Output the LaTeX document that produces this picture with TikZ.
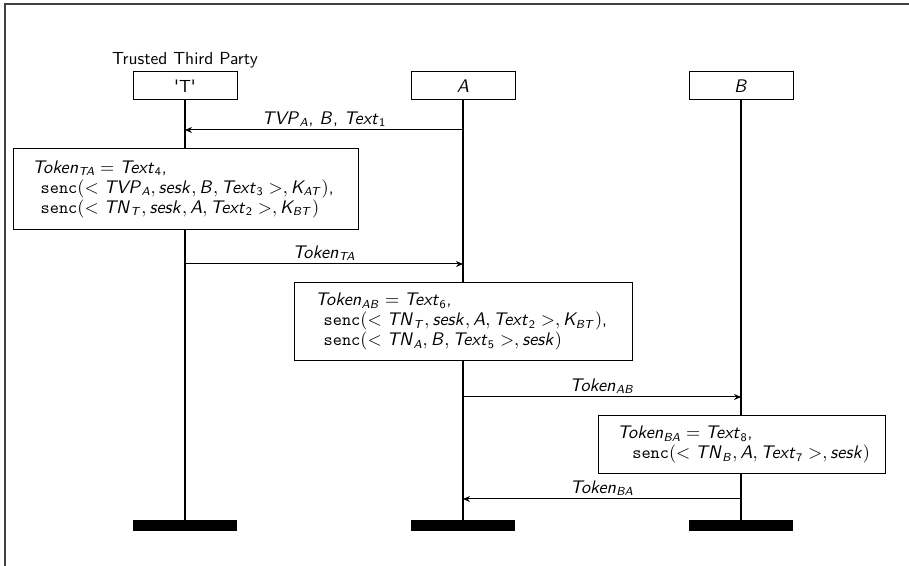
\documentclass[tikz,border=0pt]{standalone}
\usetikzlibrary{arrows.meta}
\DeclareMathAlphabet{\msi}{OT1}{cmss}{m}{sl}
\DeclareMathAlphabet{\msu}{OT1}{cmss}{m}{n}
\begin{document}
\begin{tikzpicture}[x=0.6pt,y=-0.6pt,font=\fontsize{10.5}{12}\selectfont\sffamily,
  part/.style={draw,line width=0.6pt,minimum width=62.4pt,minimum height=16.8pt,inner sep=0pt,fill=white},
  endbar/.style={fill=black,minimum width=62.4pt,minimum height=6.6pt,inner sep=0pt},
  life/.style={line width=0.8pt},
  msg/.style={-{Stealth[length=4.2pt,width=3.6pt]},line width=0.6pt},
  lbl/.style={anchor=south,inner sep=1.5pt},
  box/.style={draw,line width=0.6pt,fill=white,anchor=north west,inner sep=0pt},
  boxtext/.style={anchor=west,align=left,inner sep=0pt}]
\useasboundingbox (0,0) rectangle (909,566);
\draw[line width=0.9pt,black!75] (5,566) -- (5,4) -- (909,4);
% participants
\node[part] (T) at (185,86) {\textquotesingle T\textquotesingle};
\node[part] (A) at (463,86) {$\msi{A}$};
\node[part] (B) at (741,86) {$\msi{B}$};
\node[anchor=south,inner sep=2pt] (ttp) at (T.north) {Trusted Third Party};
\node[endbar] (Te) at (185,525.5) {};
\node[endbar] (Ae) at (463,525.5) {};
\node[endbar] (Be) at (741,525.5) {};
\draw[life] (T) -- (Te);
\draw[life] (A) -- (Ae);
\draw[life] (B) -- (Be);
% message coordinates
\coordinate (m1s) at (463,130); \coordinate (m1e) at (185,130);
\coordinate (m2s) at (185,264); \coordinate (m2e) at (463,264);
\coordinate (m3s) at (463,397); \coordinate (m3e) at (741,397);
\coordinate (m4s) at (741,499); \coordinate (m4e) at (463,499);
\draw[msg] (m1s) -- node[lbl] (l1) {$\msi{TVP}_{\msi{A}}$, $\msi{B}$, $\msi{Text}_{\msu{1}}$} (m1e);
\draw[msg] (m2s) -- node[lbl] (l2) {$\msi{Token}_{\msi{TA}}$} (m2e);
\draw[msg] (m3s) -- node[lbl] (l3) {$\msi{Token}_{\msi{AB}}$} (m3e);
\draw[msg] (m4s) -- node[lbl] (l4) {$\msi{Token}_{\msi{BA}}$} (m4e);
% boxes
\node[box,minimum width=207pt,minimum height=48.6pt] (bTA) at (13,148) {};
\node[boxtext] (tTA) at ([xshift=11.4pt]bTA.west)
 {$\msi{Token}_{\msi{TA}} = \msi{Text}_{\msu{4}}$,\\
  \hspace*{5pt}$\texttt{senc}(< \msi{TVP}_{\msi{A}}, \msi{sesk}, \msi{B}, \msi{Text}_{\msu{3}} >, \msi{K}_{\msi{AT}})$,\\
  \hspace*{5pt}$\texttt{senc}(< \msi{TN}_{\msi{T}}, \msi{sesk}, \msi{A}, \msi{Text}_{\msu{2}} >, \msi{K}_{\msi{BT}})$};
\node[box,minimum width=202.8pt,minimum height=46.8pt] (bAB) at (294,282) {};
\node[boxtext] (tAB) at ([xshift=12.6pt]bAB.west)
 {$\msi{Token}_{\msi{AB}} = \msi{Text}_{\msu{6}}$,\\
  \hspace*{5pt}$\texttt{senc}(< \msi{TN}_{\msi{T}}, \msi{sesk}, \msi{A}, \msi{Text}_{\msu{2}} >, \msi{K}_{\msi{BT}})$,\\
  \hspace*{5pt}$\texttt{senc}(< \msi{TN}_{\msi{A}}, \msi{B}, \msi{Text}_{\msu{5}} >, \msi{sesk})$};
\node[box,minimum width=172.2pt,minimum height=34.8pt] (bBA) at (598,415) {};
\node[boxtext] (tBA) at ([xshift=11.4pt]bBA.west)
 {$\msi{Token}_{\msi{BA}} = \msi{Text}_{\msu{8}}$,\\
  \hspace*{9pt}$\texttt{senc}(< \msi{TN}_{\msi{B}}, \msi{A}, \msi{Text}_{\msu{7}} >, \msi{sesk})$};
\end{tikzpicture}
\end{document}
